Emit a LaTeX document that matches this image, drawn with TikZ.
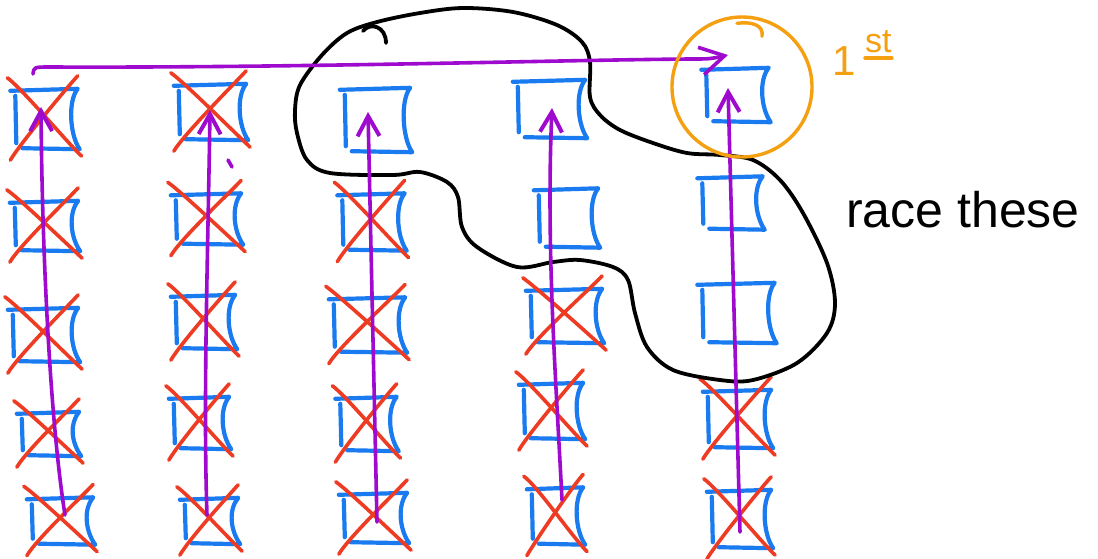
\documentclass[tikz,border=0pt]{standalone}
\usepackage{fontspec}
\usetikzlibrary{arrows.meta}
\newfontfamily\handfont{Liberation Sans}
\definecolor{penblue}{HTML}{1A7AF0}
\definecolor{penred}{HTML}{EE3B24}
\definecolor{penpurple}{HTML}{9E0BCF}
\definecolor{penorange}{HTML}{F5A010}

\tikzset{
  cell/.style={draw=none, inner sep=0pt, minimum width=#1},
  boxline/.style={draw=penblue, line width=4.2pt, line cap=round, line join=round},
  cross/.style={draw=penred, line width=3.6pt, line cap=round},
  flow/.style={draw=penpurple, line width=3.6pt, line cap=round, line join=round},
  flowtip/.style={flow, -{Straight Barb[length=20pt, width=22pt, line width=4pt]}},
  loopline/.style={draw=black, line width=3.8pt, line cap=round},
  ringline/.style={draw=penorange, line width=3.4pt, line cap=round},
}

% a sketched square: top edge, pinched right side, bottom edge, and a
% separate left stroke that leaves a small gap at the corner
\newcommand\skbox[1]{%
  \draw[boxline] ([shift={(-4,2)}]#1.north west) -- (#1.north east)
    .. controls ([shift={(-10,12)}]#1.north east) and ([shift={(-8,-14)}]#1.south east) .. ([shift={(2,0)}]#1.south east)
    -- ([shift={(8,-1)}]#1.south west);
  \draw[boxline] ([shift={(1,7)}]#1.north west) -- ([shift={(2,-6)}]#1.south west);
}
% place a sketched square: name, x, y, width, height
\newcommand\cellbox[5]{%
  \node[cell=#4pt, minimum height=#5pt] (#1) at (#2,#3) {};
  \skbox{#1}
}
% a red cross over a square
\newcommand\crossout[1]{%
  \draw[cross] ([shift={(-7,-11)}]#1.north west) .. controls ([shift={(6,-2)}]#1.north west) and ([shift={(-8,-4)}]#1.south east) .. ([shift={(4,7)}]#1.south east);
  \draw[cross] ([shift={(0,-13)}]#1.north east) .. controls ([shift={(-10,-2)}]#1.north east) and ([shift={(6,-6)}]#1.south west) .. ([shift={(-4,11)}]#1.south west);
}

\begin{document}
\begin{tikzpicture}[x=1pt, y=-1pt]
\fill[white] (0,0) rectangle (1098,558);
\useasboundingbox (0,0) rectangle (1098,558);

% grid of squares
\cellbox{c1r1}{46}{119}{63}{60}
\cellbox{c1r2}{46}{226}{64}{50}
\cellbox{c1r3}{45}{335}{66}{54}
\cellbox{c1r4}{50}{434}{58}{44}
\cellbox{c1r5}{62}{521}{62}{47}

\cellbox{c2r1}{212}{112}{68}{56}
\cellbox{c2r2}{208}{219}{66}{51}
\cellbox{c2r3}{205}{322}{60}{54}
\cellbox{c2r4}{201}{423}{56}{52}
\cellbox{c2r5}{211}{521}{54}{46}

\cellbox{c3r1}{377}{120}{66}{64}
\cellbox{c3r2}{373}{222}{63}{57}
\cellbox{c3r3}{369}{325}{72}{55}
\cellbox{c3r4}{368}{424}{57}{54}
\cellbox{c3r5}{375}{518}{64}{50}

\cellbox{c4r1}{551}{109}{68}{58}
\cellbox{c4r2}{568}{218}{60}{59}
\cellbox{c4r3}{566}{316}{72}{54}
\cellbox{c4r4}{553}{411}{60}{56}
\cellbox{c4r5}{557}{516}{52}{57}

\cellbox{c5r1}{737}{95}{63}{54}
\cellbox{c5r2}{732}{203}{61}{53}
\cellbox{c5r3}{738}{313}{73}{60}
\cellbox{c5r4}{739}{419}{64}{58}
\cellbox{c5r5}{741}{519}{60}{58}

% eliminated squares
\foreach \n in {c1r1,c1r2,c1r3,c1r4,c1r5,
                c2r1,c2r2,c2r3,c2r4,c2r5,
                c3r2,c3r3,c3r4,c3r5,
                c4r3,c4r4,c4r5,
                c5r4,c5r5} {\crossout{\n}}

% the remaining candidates
\draw[loopline] plot[smooth cycle, tension=0.55] coordinates {
  (322,55) (347,33) (377,22) (420,13) (463,8) (513,12) (557,25) (582,42)
  (590,62) (590,97) (600,115) (620,130) (653,143) (687,153) (720,155)
  (753,160) (780,180) (803,213) (827,263) (835,303) (827,333) (797,363)
  (753,380) (720,380) (673,370) (647,347) (635,313) (628,280) (613,267)
  (580,260) (553,262) (517,267) (477,247) (462,227) (458,197) (447,182)
  (420,172) (393,175) (330,173) (307,160) (297,133) (295,110) (300,85)};
\draw[loopline] (363,31) .. controls (370,22) and (386,26) .. (386,43);

% column races, bottom to top
\draw[flowtip] ([shift={(3,-6)}]c1r5.center) .. controls (50,420) and (42,250) .. ([shift={(-5,-12)}]c1r1.center);
\draw[flowtip] ([shift={(-4,-6)}]c2r5.center) .. controls (203,400) and (208,250) .. ([shift={(-2,-2)}]c2r1.center);
\draw[flowtip] ([shift={(2,4)}]c3r5.center) -- ([shift={(-9,-8)}]c3r1.center);
\draw[flowtip] ([shift={(5,-16)}]c4r5.center) .. controls (556,380) and (546,250) .. ([shift={(1,-1)}]c4r1.center);
\draw[flowtip] ([shift={(-1,13)}]c5r5.center) -- ([shift={(-9,-7)}]c5r1.center);
\draw[flow] (228,160) -- (232,167);

% race of the column winners
\coordinate (hstart) at (33,74);
\coordinate (hend) at (728,55);
\draw[flow, -{Straight Barb[length=24pt, width=28pt, line width=3.6pt]}]
  (hstart) .. controls (34,67) .. (50,67)
  .. controls (300,68) and (560,60) .. (690,59)
  .. controls (710,59) .. (hend);

% overall winner
\node[circle, draw=penorange, line width=3.4pt, minimum size=140pt, inner sep=0pt] (ring) at (742,87) {};
\draw[ringline] ([shift={(-5,8)}]ring.north) .. controls ([shift={(10,6)}]ring.north) and ([shift={(22,10)}]ring.north) .. ([shift={(20,21)}]ring.north);

\node[anchor=base west, inner sep=0pt, text=penorange, font=\handfont\fontsize{42}{42}\selectfont] (first) at (832,75) {1};
\node[anchor=base west, inner sep=0pt, text=penorange, font=\handfont\fontsize{34}{34}\selectfont] (suffix) at (865,52) {st};
\draw[ringline] ([shift={(0,6)}]suffix.base west) -- ([shift={(0,6)}]suffix.base east);

\node[anchor=base west, inner sep=0pt, font=\handfont\fontsize{50}{50}\selectfont] (racelabel) at (846,227) {race these};
\end{tikzpicture}
\end{document}
